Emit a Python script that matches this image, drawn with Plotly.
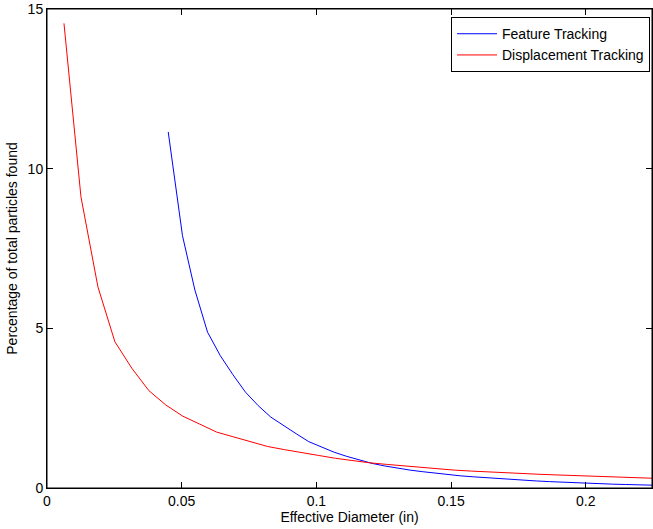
import plotly.graph_objects as go

# Displacement Tracking (red)
disp_x = [0.0063, 0.0126, 0.0189, 0.0252, 0.0315, 0.0378, 0.0441, 0.0504, 0.0567, 0.0630,
          0.0693, 0.0756, 0.0819, 0.0882, 0.0945, 0.1008, 0.1071, 0.1134, 0.1197, 0.1260,
          0.1323, 0.1386, 0.1449, 0.1512, 0.1575, 0.1638, 0.1701, 0.1764, 0.1827, 0.1890,
          0.1953, 0.2016, 0.2079, 0.2142, 0.2205, 0.2268]
disp_y = [14.55, 9.12, 6.30, 4.58, 3.75, 3.05, 2.60, 2.25, 2.00, 1.75,
          1.60, 1.45, 1.30, 1.20, 1.10, 1.02, 0.93, 0.85, 0.79, 0.74,
          0.69, 0.64, 0.60, 0.56, 0.53, 0.50, 0.47, 0.45, 0.43, 0.41,
          0.39, 0.37, 0.35, 0.33, 0.31, 0.30]

# Feature Tracking (blue)
feat_x = [0.0450, 0.0503, 0.0549, 0.0596, 0.0643, 0.0690, 0.0737, 0.0784, 0.0831, 0.0878,
          0.0925, 0.0972, 0.1019, 0.1066, 0.1113, 0.1160, 0.1207, 0.1254, 0.1301, 0.1348,
          0.1395, 0.1442, 0.1489, 0.1536, 0.1583, 0.1630, 0.1677, 0.1724, 0.1771, 0.1818,
          0.1865, 0.1912, 0.1959, 0.2006, 0.2053, 0.2100, 0.2147, 0.2194, 0.2241, 0.2288]
feat_y = [11.15, 7.90, 6.20, 4.88, 4.15, 3.55, 3.00, 2.58, 2.22, 1.95,
          1.70, 1.45, 1.28, 1.12, 0.99, 0.87, 0.77, 0.69, 0.62, 0.56,
          0.51, 0.46, 0.42, 0.38, 0.35, 0.32, 0.29, 0.27, 0.25, 0.22,
          0.20, 0.18, 0.16, 0.15, 0.13, 0.12, 0.11, 0.10, 0.09, 0.08]

x_ticks = [0, 0.05, 0.1, 0.15, 0.2]
x_tick_labels = ["0", "0.05", "0.1", "0.15", "0.2"]
y_ticks = [0, 5, 10, 15]
y_tick_labels = ["0", "5", "10", "15"]

FONT = "Liberation Sans, Arial, sans-serif"

fig = go.Figure()
fig.add_trace(go.Scatter(x=feat_x, y=feat_y, mode="lines", name="Feature Tracking",
                         line=dict(color="#0000FF", width=1)))
fig.add_trace(go.Scatter(x=disp_x, y=disp_y, mode="lines", name="Displacement Tracking",
                         line=dict(color="#FF0000", width=1)))

axis_common = dict(showgrid=False, zeroline=False, showline=True, linecolor="#000000",
                   linewidth=1, mirror="allticks", ticks="inside", ticklen=6,
                   tickcolor="#000000", automargin=False, ticklabeloverflow="allow",
                   tickfont=dict(family=FONT, size=14, color="#000000"))

fig.update_layout(
    width=653, height=529,
    margin=dict(l=47, r=1, t=9, b=41),
    paper_bgcolor="white", plot_bgcolor="white",
    font=dict(family=FONT, size=14, color="#000000"),
    showlegend=True,
    legend=dict(x=0.9967, y=0.983, xanchor="right", yanchor="top",
                bgcolor="white", bordercolor="#000000", borderwidth=1,
                font=dict(family=FONT, size=14, color="#000000"),
                tracegroupgap=0, itemwidth=40),
    xaxis=dict(range=[0, 0.2246], tickvals=x_ticks, ticktext=x_tick_labels,
               title=dict(text="Effective Diameter (in)", standoff=4,
                          font=dict(family=FONT, size=14)), **axis_common),
    yaxis=dict(range=[0, 15], tickvals=y_ticks, ticktext=y_tick_labels,
               title=dict(text="Percentage of total particles found", standoff=6,
                          font=dict(family=FONT, size=14)), **axis_common),
    shapes=[dict(type="rect", xref="paper", yref="paper", x0=0, x1=1, y0=0, y1=1,
                 line=dict(color="#000000", width=1), layer="above")],
)

fig.write_html("out.html", config={"displayModeBar": False},
               post_script="document.body.style.margin='0';document.body.style.overflow='hidden';")
